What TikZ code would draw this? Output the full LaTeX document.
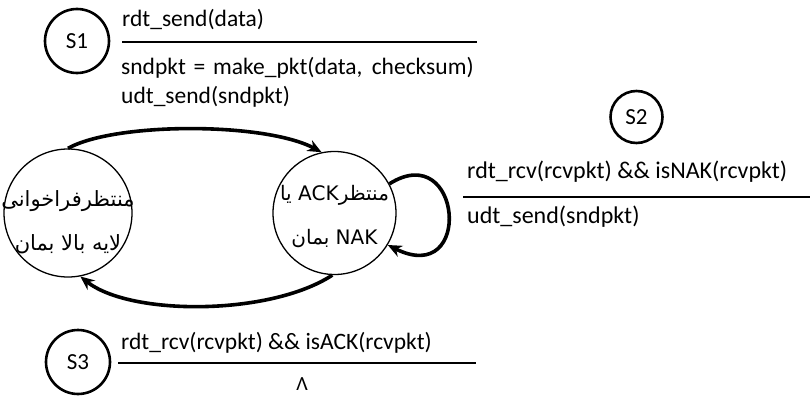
\documentclass[tikz,border=0pt]{standalone}
\usepackage{fontspec}
\setmainfont{Carlito}
\newfontfamily\arabicfont[Script=Arabic]{DejaVu Sans}
\TeXXeTstate=1
\usetikzlibrary{arrows.meta}
\begin{document}
\begin{tikzpicture}[x=1pt,y=-1pt,
  lbl/.style={font=\fontsize{23.5}{26}\selectfont, inner sep=0pt, anchor=west},
  smallstate/.style={circle, draw, line width=2.6pt, minimum size=64pt, inner sep=0pt, font=\fontsize{23}{26}\selectfont},
  bigstate/.style={circle, draw, line width=1.3pt, minimum size=128pt, inner sep=0pt},
  ptext/.style={font=\arabicfont\fontsize{21}{44}\selectfont, align=center, inner sep=0pt},
  sep/.style={line width=2pt},
  arr/.style={line width=3.6pt, -{Stealth[length=14pt,width=12pt]}}]
\useasboundingbox (0,0) rectangle (810,396);
% states
\node[bigstate] (L) at (68,213) {};
\node[ptext] (Lt) at (68,222) {\beginR منتظرفراخوانی\endR\\\beginR لایه بالا بمان\endR};
\node[bigstate, minimum size=123pt] (R) at (334.5,213) {};
\node[ptext, font=\arabicfont\fontsize{20}{44}\selectfont] (Rt) at (334.5,217) {\beginR منتظر\beginL ACK\endL{} یا\endR\\\beginR\beginL NAK\endL{} بمان\endR};
% transitions
\draw[arr] (L.90) .. controls (115,122) and (265,122) .. (R.102);
\draw[arr] (R.-92) .. controls (270,316) and (130,316) .. (L.-79);
\draw[arr] (R.28) .. controls (462,138) and (474,288) .. (R.-31);
% S1
\node[smallstate] (S1) at (77,41) {S1};
\node[lbl] (t1a) at (122,20) {rdt\_send(data)};
\coordinate (s1a) at (122,42);
\coordinate (s1b) at (477,42);
\draw[sep] (s1a) -- (s1b);
\node[lbl] (t1b) at (121,68) {sndpkt\,\,=\,\,make\_pkt(data,\, checksum)};
\node[lbl] (t1c) at (121,97) {udt\_send(sndpkt)};
% S2
\node[smallstate, minimum size=52pt] (S2) at (636.5,117) {S2};
\node[lbl, font=\fontsize{24}{26}\selectfont] (t2a) at (467,172) {rdt\_rcv(rcvpkt) \&\& isNAK(rcvpkt)};
\coordinate (s2a) at (463,197);
\coordinate (s2b) at (810,197);
\draw[sep] (s2a) -- (s2b);
\node[lbl, font=\fontsize{24}{26}\selectfont] (t2b) at (467,217) {udt\_send(sndpkt)};
% S3
\node[smallstate] (S3) at (78,362) {S3};
\node[lbl] (t3a) at (121,343) {rdt\_rcv(rcvpkt) \&\& isACK(rcvpkt)};
\coordinate (s3a) at (118,363);
\coordinate (s3b) at (476,363);
\draw[sep] (s3a) -- (s3b);
\node[lbl, anchor=center, font=\fontsize{20}{22}\selectfont] (t3b) at (302,384) {Λ};
\end{tikzpicture}
\end{document}
